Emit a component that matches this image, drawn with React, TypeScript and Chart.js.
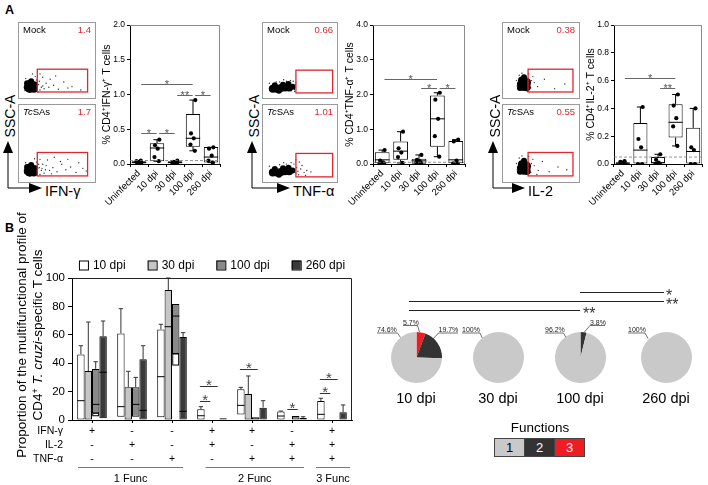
import React, { useEffect, useRef } from 'react';
import { Chart, registerables } from 'chart.js';

Chart.register(...registerables);

const FONT = "'Liberation Sans', Arial, Helvetica, sans-serif";

// ================= Panel A : box plots =================
const groupLabels = ['Uninfected', '10 dpi', '30 dpi', '100 dpi', '260 dpi'];

const ifnPoints = [
  [0.02, 0.02, 0.03, 0.04, 0.05],
  [0.35, 0.27, 0.22, 0.1, 0.04],
  [0.05, 0.03, 0.02, 0.01, 0.01],
  [0.92, 0.44, 0.37, 0.28, 0.19],
  [0.24, 0.22, 0.12, 0.05, 0.02],
];
const ifnQ1 = [0.01, 0.04, 0.01, 0.25, 0.02];
const ifnMed = [0.02, 0.23, 0.02, 0.37, 0.1];
const ifnQ3 = [0.04, 0.3, 0.04, 0.72, 0.245];
const ifnSig: [number, number, number, string][] = [
  [0, 3, 1.15, '*'], [0, 1, 0.45, '*'], [1, 2, 0.45, '*'], [2, 3, 1.0, '**'], [3, 4, 1.0, '*'],
];

const tnfPoints = [
  [0.4, 0.1, 0.05, 0.02, 0.02],
  [0.93, 0.45, 0.33, 0.2, 0.03],
  [0.26, 0.12, 0.08, 0.05, 0.03],
  [2.05, 1.85, 1.3, 0.8, 0.21],
  [0.7, 0.65, 0.1, 0.02, 0.02],
];
const tnfQ1 = [0.02, 0.12, 0.01, 0.5, 0.02];
const tnfMed = [0.12, 0.37, 0.09, 1.3, 0.12];
const tnfQ3 = [0.34, 0.65, 0.15, 1.97, 0.66];
const tnfSig: [number, number, number, string][] = [
  [0, 3, 2.45, '*'], [2, 3, 2.2, '*'], [3, 4, 2.2, '*'],
];

const il2Points = [
  [0.0, 0.005, 0.01, 0.015, 0.02],
  [0.41, 0.18, 0.12, 0.0, 0.0],
  [0.07, 0.03, 0.01, 0.0, 0.0],
  [0.5, 0.42, 0.33, 0.27, 0.13],
  [0.4, 0.12, 0.1, 0.0, 0.0],
];
const il2Q1 = [0.0, 0.0, 0.0, 0.19, 0.0];
const il2Med = [0.005, 0.1, 0.01, 0.3, 0.09];
const il2Q3 = [0.012, 0.295, 0.05, 0.43, 0.26];
const il2Sig: [number, number, number, string][] = [
  [0, 3, 0.62, '*'], [2, 3, 0.545, '**'],
];

const cutoffs = [0.05, 0.05, 0.05];

// ================= Panel A : flow plots (0-100 units) =================
const ifnCore = [
  { x: 10, y: 9, r: 5 }, { x: 14, y: 12, r: 5 }, { x: 10, y: 15, r: 4 }, { x: 7, y: 10, r: 4 },
  { x: 16, y: 8, r: 4 }, { x: 12, y: 19, r: 3 }, { x: 6, y: 16, r: 3 }, { x: 18, y: 14, r: 3 },
];
const ifnMockDots = [
  [21, 8], [23, 14], [20, 21], [25, 6], [18, 26], [24, 19], [27, 10], [4, 23], [3, 5], [22, 3],
  [29, 12], [31, 8], [34, 16], [38, 10], [45, 13], [52, 7], [60, 18], [72, 11], [85, 6], [40, 22],
  [29, 25], [48, 27], [66, 9], [25, 30], [14, 30],
];
const ifnTcDots = [
  [21, 9], [24, 15], [20, 23], [25, 5], [17, 28], [23, 20], [27, 11], [4, 22], [3, 7], [28, 14],
  [31, 7], [34, 18], [39, 11], [44, 15], [50, 9], [57, 20], [63, 12], [70, 16], [78, 8], [88, 14],
  [36, 26], [46, 30], [55, 24], [29, 20], [42, 6], [66, 27], [82, 22], [93, 10], [33, 12], [25, 27],
];
const ifnGate = [21, 95, 3, 37];

const tnfCore = [
  { x: 10, y: 9, r: 4 }, { x: 16, y: 9, r: 4 }, { x: 22, y: 10, r: 4 }, { x: 28, y: 11, r: 4 },
  { x: 34, y: 11, r: 4 }, { x: 39, y: 12, r: 3 }, { x: 13, y: 14, r: 3 }, { x: 25, y: 15, r: 3 },
  { x: 33, y: 16, r: 3 }, { x: 19, y: 6, r: 3 },
];
const tnfMockDots = [
  [42, 8], [43, 15], [40, 20], [41, 11], [36, 21], [30, 20], [5, 17], [42, 5], [20, 19], [26, 22],
  [7, 12], [44, 18], [15, 19], [37, 6],
];
const tnfTcDots = [
  [44, 8], [45, 16], [41, 21], [47, 11], [37, 23], [30, 21], [5, 18], [48, 6], [51, 14], [56, 9],
  [60, 12], [53, 19], [49, 24], [66, 10], [58, 5], [20, 20], [26, 23], [44, 27], [7, 13],
];
const tnfGate = [44, 98, 3, 36];

const il2Core = [
  { x: 24, y: 12, r: 5 }, { x: 28, y: 17, r: 5 }, { x: 22, y: 20, r: 4 }, { x: 29, y: 10, r: 4 },
  { x: 25, y: 25, r: 3 }, { x: 19, y: 9, r: 3 }, { x: 19, y: 15, r: 3 },
];
const il2MockDots = [
  [33, 14], [36, 20], [35, 9], [18, 28], [15, 12], [32, 30], [40, 17], [45, 11], [55, 22], [70, 8],
  [85, 15], [38, 26], [14, 20], [30, 4], [22, 31],
];
const il2TcDots = [
  [33, 14], [36, 21], [35, 8], [18, 29], [15, 12], [32, 31], [40, 18], [46, 11], [52, 24], [62, 9],
  [75, 16], [88, 12], [38, 27], [44, 5], [14, 21], [22, 32],
];
const il2Gate = [31, 97, 3, 37];

const flowValues = [['1.4', '1.7'], ['0.66', '1.01'], ['0.38', '0.55']];
const flowSamples = ['Mock', 'TcSAs'];

// ================= Panel B : multifunctional profile =================
const funcSigns = [
  ['+', '-', '-'], ['-', '+', '-'], ['-', '-', '+'],
  ['+', '+', '-'], ['+', '-', '+'], ['-', '+', '+'], ['+', '+', '+'],
];
const cytokines = ['IFN-γ', 'IL-2', 'TNF-α'];
const funcClasses = ['1 Func', '2 Func', '3 Func'];
const dpiNames = ['10 dpi', '30 dpi', '100 dpi', '260 dpi'];

const low10 = [0, 2.3, 1.9, 0, 3.8, 0, 0];
const high10 = [46.2, 61, 63.8, 7.5, 21.6, 5.9, 13.4];
const med10 = [13.6, 9.4, 30.5, 3, 10.3, 2.8, 4];
const err10 = [52.3, 78.4, 67.4, 9.4, 23, 6.3, 15.3];

const low30 = [0, 0, 0, 0, 0, 0, 0];
const high30 = [34.5, 23, 91.5, 0, 18.3, 0, 0];
const med30 = [null, null, 65.7, null, null, null, null];
const err30 = [69, 34.3, 100, 0, 31, 0, 0];

const low100 = [4.7, 2.3, 46.5, 0, 0, 0, 0];
const high100 = [36, 23, 81.7, 0, 1.9, 2.8, 0];
const med100 = [11, 11, 73.2, null, null, null, null];
const err100 = [41, 30, 81.7, 0, 1.9, 2.8, 0];
const errLow100 = [3, null, 38.7, null, null, null, null];

const low260 = [1.2, 0, 0, 0, 0, 0, 0];
const high260 = [59, 42.7, 58.5, 1.2, 8.7, 1.4, 5.4];
const med260 = [33.6, 6.8, 6.1, null, null, null, null];
const err260 = [69.7, 52.3, 61.5, 1.2, 13.6, 2.3, 10.6];

// [category, dpi a, dpi b, value]
const bSig = [
  [3, 0, 1, 13.6], [3, 0, 2, 24], [4, 0, 2, 35.7], [5, 1, 2, 7.7], [6, 0, 1, 18.8], [6, 0, 2, 28.6],
];

// pies: share of cells with 3, 2, 1 functions
const pie3 = [5.7, 0, 0, 0];
const pie2 = [19.7, 0, 3.8, 0];
const pie1 = [74.6, 100, 96.2, 100];

// ================= helpers =================
const JIT = [0.13, -0.11, 0.04, -0.14, 0.1];

function boxConfig(title: string, pts: number[][], q1: number[], med: number[], q3: number[],
  sig: [number, number, number, string][], cut: number, max: number, step: number): any {
  const plugin = {
    id: 'boxExtras',
    beforeDatasetsDraw(chart: any) {
      const { ctx, scales: { x, y } } = chart;
      const meta = chart.getDatasetMeta(0);
      ctx.save();
      ctx.strokeStyle = '#000';
      ctx.lineWidth = 1;
      pts.forEach((vals, i) => {
        const cx = x.getPixelForValue(i);
        const lo = Math.min(...vals);
        const hi = Math.max(...vals);
        const cap = meta.data[i].width * 0.25;
        ctx.beginPath();
        ctx.moveTo(cx, y.getPixelForValue(hi));
        ctx.lineTo(cx, y.getPixelForValue(q3[i]));
        ctx.moveTo(cx, y.getPixelForValue(q1[i]));
        ctx.lineTo(cx, y.getPixelForValue(lo));
        ctx.moveTo(cx - cap, y.getPixelForValue(hi));
        ctx.lineTo(cx + cap, y.getPixelForValue(hi));
        ctx.moveTo(cx - cap, y.getPixelForValue(lo));
        ctx.lineTo(cx + cap, y.getPixelForValue(lo));
        ctx.stroke();
      });
      ctx.restore();
    },
    afterDatasetsDraw(chart: any) {
      const { ctx, chartArea: ca, scales: { x, y } } = chart;
      const meta = chart.getDatasetMeta(0);
      ctx.save();
      ctx.strokeStyle = '#000';
      ctx.lineWidth = 1;
      med.forEach((m, i) => {
        const el = meta.data[i];
        const yy = y.getPixelForValue(m);
        ctx.beginPath();
        ctx.moveTo(el.x - el.width / 2, yy);
        ctx.lineTo(el.x + el.width / 2, yy);
        ctx.stroke();
      });
      ctx.strokeStyle = '#777';
      ctx.lineWidth = 0.8;
      ctx.setLineDash([3, 2]);
      const yc = y.getPixelForValue(cut);
      ctx.beginPath();
      ctx.moveTo(ca.left, yc);
      ctx.lineTo(ca.right, yc);
      ctx.stroke();
      ctx.setLineDash([]);
      ctx.strokeStyle = '#8a8a8a';
      ctx.lineWidth = 1;
      ctx.beginPath();
      ctx.moveTo(ca.left, ca.top + 0.5);
      ctx.lineTo(ca.right - 0.5, ca.top + 0.5);
      ctx.lineTo(ca.right - 0.5, ca.bottom);
      ctx.stroke();
      ctx.strokeStyle = '#666';
      ctx.fillStyle = '#555';
      ctx.font = `11px ${FONT}`;
      ctx.textAlign = 'center';
      ctx.textBaseline = 'alphabetic';
      sig.forEach(([a, b, v, lab]) => {
        const x1 = x.getPixelForValue(a + 0.12);
        const x2 = x.getPixelForValue(b - 0.02);
        const yy = Math.round(y.getPixelForValue(v)) + 0.5;
        ctx.beginPath();
        ctx.moveTo(x1, yy);
        ctx.lineTo(x2, yy);
        ctx.stroke();
        ctx.fillText(lab, (x1 + x2) / 2, yy + 3.5);
      });
      ctx.restore();
    },
  };
  return {
    type: 'bar',
    data: {
      datasets: [
        {
          type: 'bar',
          data: q1.map((v, i) => ({ x: i, y: [v, q3[i]] })),
          backgroundColor: '#fff',
          borderColor: '#000',
          borderWidth: 1,
          borderSkipped: false,
          barPercentage: 0.8,
          categoryPercentage: 1,
          order: 2,
        },
        {
          type: 'scatter',
          data: pts.flatMap((vals, i) => vals.map((v, j) => ({ x: i + JIT[j], y: v }))),
          pointRadius: 2.1,
          pointBackgroundColor: '#000',
          pointBorderWidth: 0,
          order: 1,
        },
      ],
    },
    options: {
      responsive: true,
      maintainAspectRatio: false,
      animation: false,
      layout: { padding: { left: 0, right: 4, top: 8, bottom: 0 } },
      plugins: { legend: { display: false }, tooltip: { enabled: false } },
      scales: {
        x: {
          type: 'linear',
          min: -0.5,
          max: 4.5,
          offset: false,
          afterBuildTicks: (s: any) => { s.ticks = groupLabels.map((_, i) => ({ value: i })); },
          afterFit: (s: any) => { s.height = 56; },
          ticks: {
            callback: (v: any) => groupLabels[v],
            minRotation: 45,
            maxRotation: 45,
            autoSkip: false,
            padding: 1,
            color: '#000',
            font: { family: FONT, size: 9.5 },
          },
          grid: { display: true, drawOnChartArea: false, drawTicks: true, tickLength: 3, color: '#000' },
          border: { color: '#000' },
        },
        y: {
          min: 0,
          max,
          afterFit: (s: any) => { s.width = 31; },
          ticks: {
            stepSize: step,
            callback: (v: any) => Number(v).toFixed(1),
            color: '#000',
            padding: 2,
            font: { family: FONT, size: 8.5 },
          },
          title: { display: true, text: title, color: '#000', padding: { top: 2, bottom: 0 }, font: { family: FONT, size: 10.5 } },
          grid: { display: true, drawOnChartArea: false, drawTicks: true, tickLength: 3, color: '#000' },
          border: { color: '#000' },
        },
      },
    },
    plugins: [plugin],
  };
}

function flowConfig(core: any[], dots: number[][], gate: number[], sample: string, value: string): any {
  const plugin = {
    id: 'flowExtras',
    afterDraw(chart: any) {
      const { ctx, width, height, scales: { x, y } } = chart;
      ctx.save();
      ctx.strokeStyle = '#9a9a9a';
      ctx.lineWidth = 1;
      ctx.strokeRect(0.5, 0.5, width - 1, height - 1);
      ctx.strokeStyle = '#e0262e';
      ctx.lineWidth = 1.3;
      const gx0 = x.getPixelForValue(gate[0]);
      const gx1 = x.getPixelForValue(gate[1]);
      const gy0 = y.getPixelForValue(gate[2]);
      const gy1 = y.getPixelForValue(gate[3]);
      ctx.strokeRect(gx0, gy1, gx1 - gx0, gy0 - gy1);
      ctx.textBaseline = 'middle';
      ctx.fillStyle = '#000';
      if (sample === 'TcSAs') {
        ctx.font = `italic 9.5px ${FONT}`;
        ctx.fillText('Tc', 5, 8.5);
        const w = ctx.measureText('Tc').width;
        ctx.font = `9.5px ${FONT}`;
        ctx.fillText('SAs', 5 + w, 8.5);
      } else {
        ctx.font = `9.5px ${FONT}`;
        ctx.fillText(sample, 5, 8.5);
      }
      ctx.fillStyle = '#e0262e';
      ctx.textAlign = 'right';
      ctx.fillText(value, width - 5, 8.5);
      ctx.restore();
    },
  };
  return {
    type: 'bubble',
    data: {
      datasets: [
        { data: core, backgroundColor: '#000', borderWidth: 0 },
        { data: dots.map(([px, py]) => ({ x: px, y: py, r: 0.7 })), backgroundColor: '#333', borderWidth: 0 },
      ],
    },
    options: {
      responsive: true,
      maintainAspectRatio: false,
      animation: false,
      layout: { padding: 0 },
      plugins: { legend: { display: false }, tooltip: { enabled: false } },
      scales: {
        x: { display: false, min: 0, max: 100 },
        y: { display: false, min: 0, max: 100 },
      },
    },
    plugins: [plugin],
  };
}

function pieConfig(k: number): any {
  return {
    type: 'pie',
    data: {
      labels: ['3', '2', '1'],
      datasets: [{
        data: [pie3[k], pie2[k], pie1[k]],
        backgroundColor: ['#ee1d23', '#333333', '#c9c9c9'],
        borderWidth: 0,
      }],
    },
    options: {
      responsive: true,
      maintainAspectRatio: false,
      animation: false,
      layout: { padding: 0 },
      plugins: { legend: { display: false }, tooltip: { enabled: false } },
    },
  };
}

function barConfig(): any {
  const lows = [low10, low30, low100, low260];
  const highs = [high10, high30, high100, high260];
  const meds = [med10, med30, med100, med260];
  const errs = [err10, err30, err100, err260];
  const errLows = [null, null, errLow100, null];
  const fills = ['#ffffff', '#c6c6c6', '#8a8a8a', '#3a3a3a'];
  const plugin = {
    id: 'bExtras',
    afterDatasetsDraw(chart: any) {
      const { ctx, chartArea: ca, scales: { y } } = chart;
      ctx.save();
      ctx.lineWidth = 1;
      dpiNames.forEach((_, k) => {
        const meta = chart.getDatasetMeta(k);
        meta.data.forEach((el: any, i: number) => {
          const w = el.width;
          const cx = el.x;
          ctx.strokeStyle = '#000';
          const m = meds[k][i];
          if (m !== null) {
            const yy = y.getPixelForValue(m);
            ctx.beginPath();
            ctx.moveTo(cx - w / 2, yy);
            ctx.lineTo(cx + w / 2, yy);
            ctx.stroke();
          }
          ctx.strokeStyle = '#333';
          if (errs[k][i] > highs[k][i]) {
            const y1 = y.getPixelForValue(highs[k][i]);
            const y2 = y.getPixelForValue(errs[k][i]);
            ctx.beginPath();
            ctx.moveTo(cx, y1);
            ctx.lineTo(cx, y2);
            ctx.moveTo(cx - w * 0.3, y2);
            ctx.lineTo(cx + w * 0.3, y2);
            ctx.stroke();
          }
          const el2 = errLows[k];
          if (el2 && el2[i] !== null) {
            const y1 = y.getPixelForValue(lows[k][i]);
            const y2 = y.getPixelForValue(el2[i] as number);
            ctx.strokeStyle = '#000';
            ctx.strokeRect(cx - w * 0.4, y1, w * 0.8, y2 - y1);
          }
        });
      });
      ctx.strokeStyle = '#333';
      ctx.fillStyle = '#444';
      ctx.font = `15px ${FONT}`;
      ctx.textAlign = 'center';
      ctx.textBaseline = 'alphabetic';
      bSig.forEach(([g, a, b, v]) => {
        const xa = chart.getDatasetMeta(a).data[g].x - 1;
        const xb = chart.getDatasetMeta(b).data[g].x + 2;
        const yy = Math.round(y.getPixelForValue(v)) + 0.5;
        ctx.beginPath();
        ctx.moveTo(xa, yy);
        ctx.lineTo(xb, yy);
        ctx.stroke();
        ctx.fillText('*', (xa + xb) / 2, yy + 3);
      });
      ctx.strokeStyle = '#222';
      ctx.beginPath();
      ctx.moveTo(ca.left, ca.top + 0.5);
      ctx.lineTo(ca.right - 0.5, ca.top + 0.5);
      ctx.lineTo(ca.right - 0.5, ca.bottom);
      ctx.stroke();
      ctx.restore();
    },
    afterDraw(chart: any) {
      const { ctx, chartArea: ca, scales: { x } } = chart;
      ctx.save();
      ctx.font = `12px ${FONT}`;
      ctx.textBaseline = 'middle';
      const items = chart.data.datasets.map((d: any) => ({ label: d.label, color: d.backgroundColor, w: ctx.measureText(d.label).width }));
      const total = items.reduce((s: number, it: any) => s + 9 + 5 + it.w, 0) + 22 * (items.length - 1);
      let lx = (ca.left + ca.right) / 2 - total / 2;
      const ly = ca.top - 13;
      items.forEach((it: any) => {
        ctx.fillStyle = it.color;
        ctx.fillRect(lx, ly - 4.5, 9, 9);
        ctx.strokeStyle = '#000';
        ctx.lineWidth = 1;
        ctx.strokeRect(lx + 0.5, ly - 4, 9, 9);
        ctx.fillStyle = '#000';
        ctx.textAlign = 'left';
        ctx.fillText(it.label, lx + 14, ly + 0.5);
        lx += 14 + it.w + 22;
      });
      ctx.font = `10.5px ${FONT}`;
      cytokines.forEach((name, j) => {
        const yy = ca.bottom + 11.5 + 13.8 * j;
        ctx.textAlign = 'right';
        ctx.fillText(name, ca.left - 9, yy);
        ctx.textAlign = 'center';
        funcSigns.forEach((signs, i) => {
          ctx.fillText(signs[j], x.getPixelForValue(i), yy);
        });
      });
      const spans = [[0, 2], [3, 5], [6, 6]];
      const pad = [[-0.35, 0.28], [-0.16, 0.3], [-0.4, 0.45]];
      const band = x.getPixelForValue(1) - x.getPixelForValue(0);
      ctx.strokeStyle = '#777';
      ctx.font = `11px ${FONT}`;
      funcClasses.forEach((lab, c) => {
        const x1 = x.getPixelForValue(spans[c][0]) + pad[c][0] * band;
        const x2 = x.getPixelForValue(spans[c][1]) + pad[c][1] * band;
        const yy = ca.bottom + 47.5;
        ctx.beginPath();
        ctx.moveTo(x1, yy);
        ctx.lineTo(x2, yy);
        ctx.stroke();
        ctx.textAlign = 'center';
        ctx.fillText(lab, (x1 + x2) / 2, ca.bottom + 58.5);
      });
      ctx.restore();
    },
  };
  return {
    type: 'bar',
    data: {
      labels: funcSigns.map((s) => s.join('')),
      datasets: dpiNames.map((name, k) => ({
        label: name,
        data: lows[k].map((l, i) => [l, highs[k][i]]),
        backgroundColor: fills[k],
        borderColor: '#000',
        borderWidth: 1,
        borderSkipped: false,
        categoryPercentage: 0.74,
        barPercentage: 1,
      })),
    },
    options: {
      responsive: true,
      maintainAspectRatio: false,
      animation: false,
      layout: { padding: { left: 20, right: 24, top: 33, bottom: 0 } },
      plugins: { legend: { display: false }, tooltip: { enabled: false } },
      scales: {
        x: {
          afterFit: (s: any) => { s.height = 65; },
          ticks: { display: false },
          grid: { display: true, drawOnChartArea: false, drawTicks: true, tickLength: 3, color: '#000', offset: false },
          border: { color: '#000' },
        },
        y: {
          min: 0,
          max: 100,
          afterFit: (s: any) => { s.width = 28; },
          ticks: { stepSize: 20, color: '#000', padding: 3, font: { family: FONT, size: 11.5 } },
          grid: { display: true, drawOnChartArea: false, drawTicks: true, tickLength: 4, color: '#000' },
          border: { color: '#000' },
        },
      },
    },
    plugins: [plugin],
  };
}

function ChartBox({ x, y, w, h, config }: { x: number; y: number; w: number; h: number; config: () => any }) {
  const ref = useRef<HTMLCanvasElement | null>(null);
  useEffect(() => {
    const chart = new Chart(ref.current as HTMLCanvasElement, config());
    return () => chart.destroy();
  }, []);
  return (
    <div style={{ position: 'absolute', left: x, top: y, width: w, height: h }}>
      <canvas ref={ref} />
    </div>
  );
}

const txt = (extra: any): any => ({ position: 'absolute', fontFamily: FONT, color: '#000', whiteSpace: 'nowrap', lineHeight: 1, ...extra });

export default function App() {
  const flowCols = [
    { left: 18, width: 78, core: ifnCore, dots: [ifnMockDots, ifnTcDots], gate: ifnGate, vals: flowValues[0] },
    { left: 262, width: 76, core: tnfCore, dots: [tnfMockDots, tnfTcDots], gate: tnfGate, vals: flowValues[1] },
    { left: 502, width: 78, core: il2Core, dots: [il2MockDots, il2TcDots], gate: il2Gate, vals: flowValues[2] },
  ];
  const axisMarks = [
    { vx: 8, tip: 42, label: 'IFN-γ', lx: 45 },
    { vx: 252, tip: 290, label: 'TNF-α', lx: 293 },
    { vx: 493, tip: 525, label: 'IL-2', lx: 528 },
  ];
  const pieX = [416, 498, 580, 666];
  return (
    <div style={{ position: 'fixed', left: 0, top: 0, width: 708, height: 485, background: '#fff', overflow: 'hidden' }}>
      <div style={txt({ left: 5, top: 4, fontSize: 12.5, fontWeight: 'bold' })}>A</div>
      <div style={txt({ left: 5, top: 222, fontSize: 12.5, fontWeight: 'bold' })}>B</div>

      {flowCols.map((c, p) => (
        <React.Fragment key={'f' + p}>
          <ChartBox x={c.left} y={22} w={c.width} h={77}
            config={() => flowConfig(c.core, c.dots[0], c.gate, flowSamples[0], c.vals[0])} />
          <ChartBox x={c.left} y={104} w={c.width} h={79}
            config={() => flowConfig(c.core, c.dots[1], c.gate, flowSamples[1], c.vals[1])} />
        </React.Fragment>
      ))}
      {axisMarks.map((a, p) => (
        <React.Fragment key={'a' + p}>
          <div style={txt({ left: a.vx + 2 - 25, top: 116 - 7, width: 50, height: 14, fontSize: 14, textAlign: 'center', transform: 'rotate(-90deg)' })}>SSC-A</div>
          <div style={txt({ left: a.lx, top: 184, fontSize: 14.5 })}>{a.label}</div>
        </React.Fragment>
      ))}
      <svg width={708} height={485} style={{ position: 'absolute', left: 0, top: 0, pointerEvents: 'none' }}>
        {axisMarks.map((a, p) => (
          <g key={'s' + p}>
            <line x1={a.vx} y1={188} x2={a.vx} y2={150} stroke="#000" strokeWidth={1} />
            <polygon points={`${a.vx - 5},153 ${a.vx + 5},153 ${a.vx},141`} fill="#000" />
            <line x1={a.vx} y1={188} x2={a.tip - 10} y2={188} stroke="#000" strokeWidth={1} />
            <polygon points={`${a.tip - 13},183 ${a.tip - 13},193 ${a.tip},188`} fill="#000" />
          </g>
        ))}
        <line x1={580} y1={292.5} x2={664} y2={292.5} stroke="#222" strokeWidth={1.2} />
        <line x1={409} y1={301.5} x2={664} y2={301.5} stroke="#222" strokeWidth={1.2} />
        <line x1={409} y1={310.5} x2={580} y2={310.5} stroke="#222" strokeWidth={1.2} />
        <g stroke="#333" strokeWidth={0.7} fill="none">
          <polyline points="377,333 397.5,333 400.5,337.5" />
          <polyline points="403,325.5 417.5,325.5 419.5,332" />
          <polyline points="458,333 438.5,333 433,339" />
          <polyline points="462,333 480,333 482.5,338.5" />
          <polyline points="545,333 563.5,333 566,337.5" />
          <polyline points="605,325.5 590,325.5 584,332.5" />
          <polyline points="628,333 645,333 648,338.5" />
        </g>
      </svg>

      <ChartBox x={99} y={17} w={125} h={203}
        config={() => boxConfig('% CD4⁺IFN-γ⁺ T cells', ifnPoints, ifnQ1, ifnMed, ifnQ3, ifnSig, cutoffs[0], 2, 0.5)} />
      <ChartBox x={342} y={17} w={127} h={203}
        config={() => boxConfig('% CD4⁺TNF-α⁺ T cells', tnfPoints, tnfQ1, tnfMed, tnfQ3, tnfSig, cutoffs[1], 4, 1)} />
      <ChartBox x={583} y={17} w={123} h={203}
        config={() => boxConfig('% CD4⁺IL-2⁺ T cells', il2Points, il2Q1, il2Med, il2Q3, il2Sig, cutoffs[2], 1, 0.2)} />

      <div style={txt({ left: 30 - 140, top: 335 - 16, width: 280, height: 32, fontSize: 13.5, lineHeight: '16px', textAlign: 'center', transform: 'rotate(-90deg)' })}>
        <div style={{ height: 16 }}>Proportion of the multifunctional profile of</div>
        <div style={{ height: 16 }}>CD4<span style={{ fontSize: 9, verticalAlign: 'top', lineHeight: '10px' }}>+</span> <i>T. cruzi</i>-specific T cells</div>
      </div>
      <ChartBox x={24} y={245} w={352} h={240} config={barConfig} />

      {pieX.map((cx, k) => (
        <React.Fragment key={'p' + k}>
          <ChartBox x={cx - 25.5} y={357 - 25.5} w={51} h={51} config={() => pieConfig(k)} />
          <div style={txt({ left: cx - 30, top: 391, width: 60, textAlign: 'center', fontSize: 14.5 })}>{dpiNames[k]}</div>
        </React.Fragment>
      ))}
      {[
        ['74.6%', 377, 326], ['5.7%', 403, 318.5], ['19.7%', 438.5, 326], ['100%', 462, 326],
        ['96.2%', 545, 326], ['3.8%', 590, 318.5], ['100%', 628, 326],
      ].map(([t, l, tp], i) => (
        <div key={'pl' + i} style={txt({ left: l as number, top: tp as number, fontSize: 7, color: '#222' })}>{t}</div>
      ))}
      <div style={txt({ left: 666, top: 288, fontSize: 16, color: '#333' })}>*</div>
      <div style={txt({ left: 666, top: 297, fontSize: 16, color: '#333' })}>**</div>
      <div style={txt({ left: 583, top: 306, fontSize: 16, color: '#333' })}>**</div>

      <div style={txt({ left: 500, top: 421, width: 80, textAlign: 'center', fontSize: 13.5 })}>Functions</div>
      <div style={{ position: 'absolute', left: 494, top: 438, width: 91, height: 19, display: 'flex', border: '1px solid #444', boxSizing: 'border-box' }}>
        {[['1', '#c9c9c9', '#000'], ['2', '#333333', '#fff'], ['3', '#ee1d23', '#fff']].map(([n, bg, fg], i) => (
          <div key={'fl' + i} style={{ flex: 1, background: bg, color: fg, fontFamily: FONT, fontSize: 13, textAlign: 'center', lineHeight: '17px', borderLeft: i ? '1px solid #444' : 'none' }}>{n}</div>
        ))}
      </div>
    </div>
  );
}
